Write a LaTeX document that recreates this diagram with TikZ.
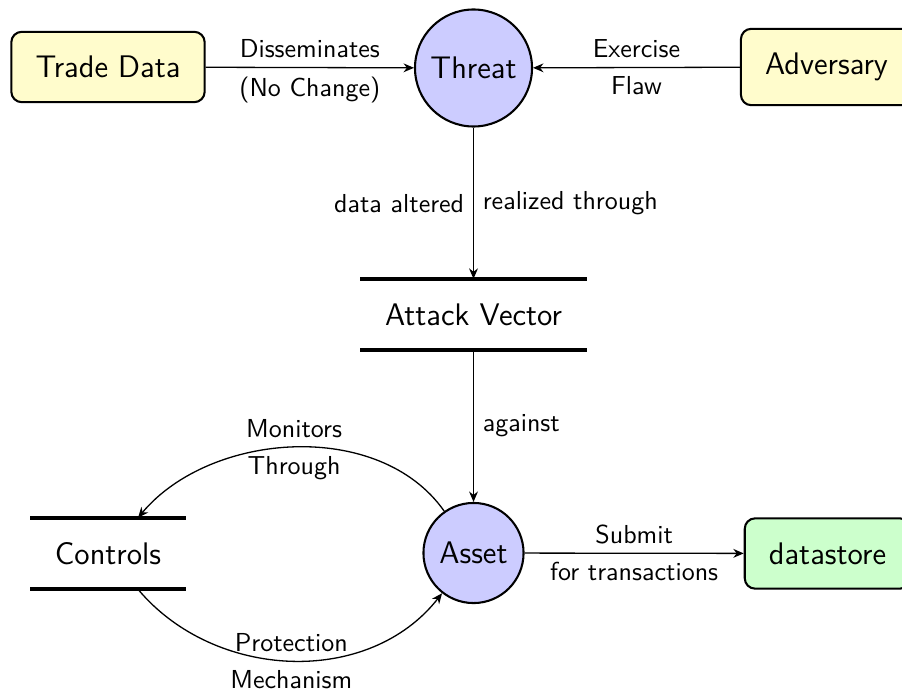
\documentclass[tikz,border=0pt]{standalone}
\usetikzlibrary{arrows.meta}
\begin{document}
\begin{tikzpicture}[x=0.3846pt, y=-0.3846pt, font=\sffamily,
  proc/.style={circle, draw, thick, fill=blue!20, font=\sffamily\large, inner sep=2pt},
  ext/.style={rectangle, rounded corners=4pt, draw, thick, fill=yellow!20, font=\sffamily\large, inner sep=9.3pt},
  sink/.style={ext, fill=green!20},
  store/.style={rectangle, font=\sffamily\large, inner sep=9.3pt},
  storeline/.style={line width=1.5pt},
  conn/.style={-{Stealth[length=4pt,width=3.4pt,inset=1.3pt]}, line width=0.5pt}]
\useasboundingbox (0,0) rectangle (902,693);
% nodes
\node[ext] (trade) at (108,67) {Trade Data};
\node[proc, minimum size=45pt] (threat) at (473.5,68) {Threat};
\node[ext] (adversary) at (826.5,67) {Adversary};
\node[store] (attack) at (473.5,314.5) {Attack Vector};
\node[proc, minimum size=38.5pt] (asset) at (473.5,553) {Asset};
\node[store] (controls) at (108,553.5) {Controls};
\node[sink] (datastore) at (827.5,553.5) {datastore};
% store lines
\draw[storeline] (attack.north west) -- (attack.north east);
\draw[storeline] (attack.south west) -- (attack.south east);
\draw[storeline] (controls.north west) -- (controls.north east);
\draw[storeline] (controls.south west) -- (controls.south east);
% connectors
\draw[conn] (trade) -- node[above]{Disseminates} node[below]{(No Change)} (threat);
\draw[conn] (adversary) -- node[above]{Exercise} node[below]{Flaw} (threat);
\draw[conn] (threat) -- node[left]{data altered} node[right]{realized through} (attack);
\draw[conn] (attack) -- node[right]{against} (asset);
\draw[conn] (asset) -- node[above]{Submit} node[below]{for transactions} (datastore);
\draw[conn] (asset) to[out=125,in=50,looseness=0.94] node[above]{Monitors} node[below]{Through} (controls);
\draw[conn] (controls) to[out=-50,in=232] node[above]{Protection} node[below]{Mechanism} (asset);
\end{tikzpicture}
\end{document}
